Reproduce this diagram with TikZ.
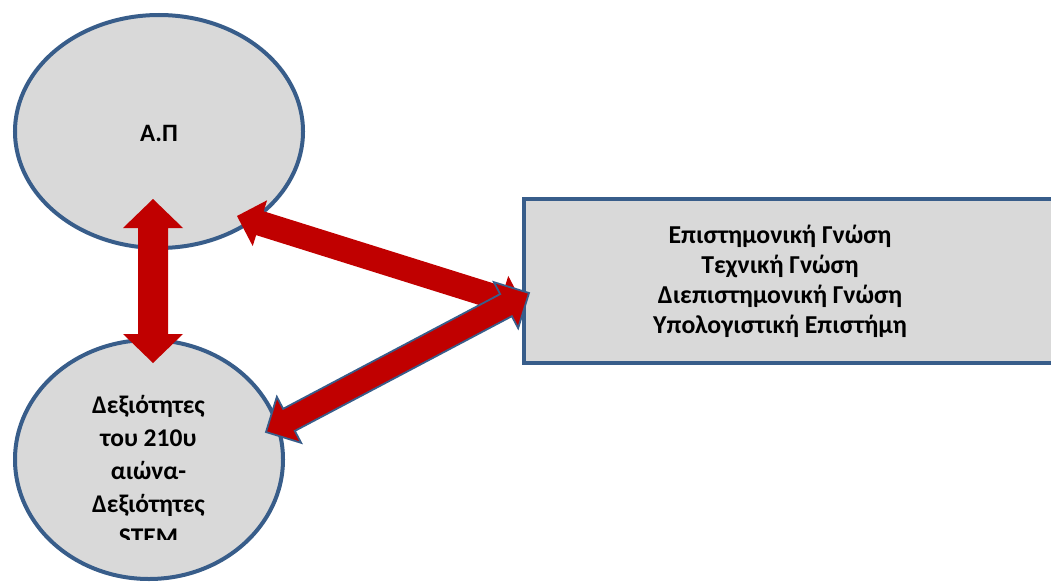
\documentclass[tikz,border=0pt]{standalone}
\usepackage{fontspec}
\setmainfont{Carlito}
\usetikzlibrary{shapes.geometric,calc}

\definecolor{shapefill}{HTML}{D9D9D9}
\definecolor{shapeline}{HTML}{385D8A}
\definecolor{arrowred}{HTML}{C00000}

% Double-headed block arrow between two named points.
% #1 style, #2 first tip, #3 second tip, #4 shaft half-width,
% #5 head half-width, #6 head length
\newcommand{\blockarrow}[6]{%
  \path[#1] (#2)
    -- ($(#2)!#6!(#3)!#5!90:(#3)$)
    -- ($(#2)!#6!(#3)!#4!90:(#3)$)
    -- ($(#3)!#6!(#2)!#4!-90:(#2)$)
    -- ($(#3)!#6!(#2)!#5!-90:(#2)$)
    -- (#3)
    -- ($(#3)!#6!(#2)!#5!90:(#2)$)
    -- ($(#3)!#6!(#2)!#4!90:(#2)$)
    -- ($(#2)!#6!(#3)!#4!-90:(#3)$)
    -- ($(#2)!#6!(#3)!#5!-90:(#3)$)
    -- cycle;}

\begin{document}
\begin{tikzpicture}[x=1pt,y=-1pt,
    bubble/.style={ellipse, draw=shapeline, fill=shapefill, line width=4pt, inner sep=0pt},
    panel/.style={draw=shapeline, fill=shapefill, line width=4.5pt, inner sep=0pt},
    label/.style={inner sep=0pt, text=black},
    redarrow/.style={fill=arrowred},
    redarrowedged/.style={fill=arrowred, draw=shapeline, line width=1.8pt}]
  \useasboundingbox (0,0) rectangle (1051,583);
  \clip (0,0) rectangle (1051,583);

  % shapes
  \node[bubble, minimum width=288pt, minimum height=233pt] (ap) at (159,131.5) {};
  \node[bubble, minimum width=268pt, minimum height=239pt] (skills) at (149,459.5) {};
  \node[panel, minimum width=560pt, minimum height=164pt, anchor=west] (knowledge) at (521.5,281) {};

  % texts
  \node[label, anchor=base, font=\fontsize{25}{30}\selectfont\bfseries] (aptext) at (159,141.7) {Α.Π};
  \begin{scope}
    \clip (0,0) rectangle (1051,539);
    \node[label, anchor=base, font=\fontsize{25.5}{33}\selectfont\bfseries] (skillstext) at (148.5,413.3)
      {\begin{tabular}[t]{@{}c@{}}Δεξιότητες\\του 210υ\\αιώνα-\\Δεξιότητες\\STEM\end{tabular}};
  \end{scope}
  \node[label, anchor=base, font=\fontsize{25.8}{30.2}\selectfont\bfseries] (knowtext) at (780,243.3)
    {\begin{tabular}[t]{@{}c@{}}Επιστημονική Γνώση\\Τεχνική Γνώση\\Διεπιστημονική Γνώση\\Υπολογιστική Επιστήμη\end{tabular}};

  % arrow end points
  \coordinate (v1) at (153,199);
  \coordinate (v2) at (153,363);
  \coordinate (u1) at (237,216);
  \coordinate (u2) at (524,306);
  \coordinate (l1) at (266,432);
  \coordinate (l2) at (529,293);

  % connectors
  \blockarrow{redarrow}{v1}{v2}{15pt}{30pt}{29pt}
  \blockarrow{redarrow}{u1}{u2}{12.5pt}{24pt}{24pt}
  \blockarrow{redarrowedged}{l1}{l2}{12.5pt}{26pt}{26pt}
\end{tikzpicture}
\end{document}
